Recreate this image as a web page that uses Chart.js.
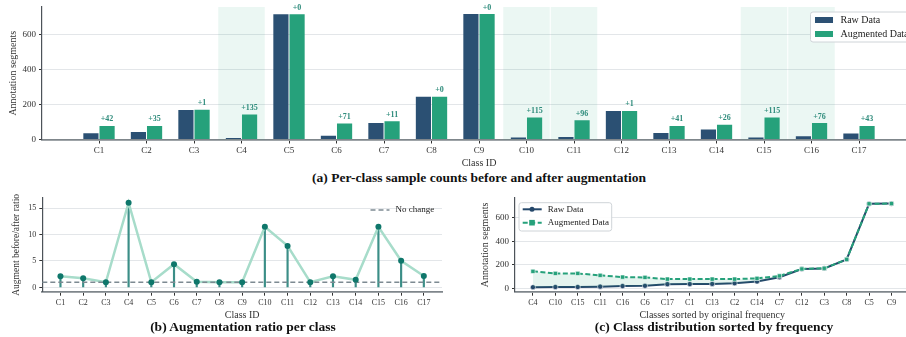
<!DOCTYPE html>
<html>
<head>
<meta charset="utf-8">
<script src="https://cdn.jsdelivr.net/npm/chart.js@4.4.1/dist/chart.umd.min.js"></script>
<style>
    body {
        margin: 0;
        width: 906px;
        height: 337px;
        overflow: hidden;
        background: #fff;
        position: relative;
        font-family: 'Liberation Serif', 'Times New Roman', serif;
    }
    canvas { position: absolute; }
    .title {
        position: absolute;
        font-weight: bold;
        font-size: 13.5px;
        color: #111;
        white-space: nowrap;
        transform: translate(-50%, -50%);
    }
</style>
</head>
<body>
<canvas id="chartA" width="916" height="170" style="left:0;top:0"></canvas>
<canvas id="chartB" width="446" height="132" style="left:0;top:190px"></canvas>
<canvas id="chartC" width="454" height="132" style="left:460px;top:190px"></canvas>
<div class="title" style="left:479px;top:178px">(a) Per-class sample counts before and after augmentation</div>
<div class="title" style="left:243px;top:327px">(b) Augmentation ratio per class</div>
<div class="title" style="left:714px;top:327px">(c) Class distribution sorted by frequency</div>
<script>
// Datos
const classes = ['C1', 'C2', 'C3', 'C4', 'C5', 'C6', 'C7', 'C8', 'C9', 'C10', 'C11', 'C12', 'C13', 'C14', 'C15', 'C16', 'C17'];
const rawCounts = [36, 43, 169, 9, 718, 21, 94, 245, 720, 11, 14, 163, 37, 58, 11, 19, 35];
const augCounts = [78, 78, 170, 144, 718, 92, 105, 245, 720, 126, 110, 164, 78, 84, 126, 95, 78];
const ratios = [2.1, 1.75, 1.0, 16.0, 1.0, 4.4, 1.1, 1.0, 1.0, 11.45, 7.85, 1.0, 2.1, 1.45, 11.45, 5.05, 2.15];
const highlightClasses = ['C4', 'C10', 'C11', 'C15', 'C16'];
const sortedClasses = ['C4', 'C10', 'C15', 'C11', 'C16', 'C6', 'C17', 'C1', 'C13', 'C2', 'C14', 'C7', 'C12', 'C3', 'C8', 'C5', 'C9'];
const yTicksA = [0, 200, 400, 600];
const yTicksB = [0, 5, 10, 15];
const yTicksC = [0, 200, 400, 600];
const NO_CHANGE = 1;

const FONT = "'Liberation Serif', 'Times New Roman', serif";
const RAW_COLOR = '#2b5073';
const AUG_COLOR = '#26a17b';
const TEXT = '#333';

Chart.defaults.font.family = FONT;
Chart.defaults.color = TEXT;

// Fija el ancho/alto de los ejes para alinear el area del grafico
function fixY(width) {
    return (scale) => { scale.width = width; scale.paddingTop = 0; scale.paddingBottom = 0; };
}
function fixX(height) {
    return (scale) => { scale.height = height; scale.paddingLeft = 0; scale.paddingRight = 0; };
}
function setTicks(values) {
    return (scale) => { scale.ticks = values.map(v => ({ value: v })); };
}

function xScale(min, max, labels, height, title, size) {
    return {
        type: 'linear', min: min, max: max, offset: false,
        afterBuildTicks: setTicks(labels.map((c, i) => i)),
        afterFit: fixX(height),
        ticks: { autoSkip: false, maxRotation: 0, padding: 2, font: { size: size }, color: TEXT, callback: v => labels[v] },
        grid: { display: true, drawOnChartArea: false, drawTicks: true, tickLength: 4, tickColor: '#333', offset: false },
        border: { color: '#7f868b', width: 1.8 },
        title: { display: true, text: title, font: { size: 10 }, color: TEXT, padding: { top: 0, bottom: 1 } }
    };
}

function yScale(min, max, tickValues, width, title, titleSize, titlePad, size) {
    return {
        min: min, max: max,
        afterBuildTicks: setTicks(tickValues),
        afterFit: fixY(width),
        ticks: { padding: 3, font: { size: size }, color: TEXT },
        grid: { color: '#e3e6e9', lineWidth: 1, tickLength: 3, tickColor: '#333' },
        border: { color: '#4d5359', width: 1.2 },
        title: { display: true, text: title, font: { size: titleSize }, color: TEXT, padding: { top: titlePad, bottom: 0 } }
    };
}

// Franjas sombreadas de las clases aumentadas
const bandPlugin = {
    id: 'bands',
    beforeDatasetsDraw(chart) {
        const { ctx, chartArea, scales: { x } } = chart;
        ctx.save();
        ctx.fillStyle = 'rgba(38,161,123,0.09)';
        highlightClasses.forEach(c => {
            const i = classes.indexOf(c);
            const l = x.getPixelForValue(i - 0.5);
            const r = x.getPixelForValue(i + 0.5);
            ctx.fillRect(l + 0.5, chartArea.top, r - l - 1, chartArea.bottom - chartArea.top);
        });
        ctx.restore();
    }
};

// Etiquetas "+n" encima de las barras aumentadas
const gainPlugin = {
    id: 'gains',
    afterDatasetsDraw(chart) {
        const ctx = chart.ctx;
        const meta = chart.getDatasetMeta(1);
        ctx.save();
        ctx.font = 'bold 8px ' + FONT;
        ctx.fillStyle = '#2f8c7c';
        ctx.textAlign = 'center';
        ctx.textBaseline = 'bottom';
        meta.data.forEach((bar, i) => {
            ctx.fillText('+' + (augCounts[i] - rawCounts[i]), bar.x, bar.y - 2.5);
        });
        ctx.restore();
    }
};

const legendA = {
    id: 'legendA',
    afterDraw(chart) {
        const ctx = chart.ctx;
        const x0 = chart.chartArea.right - 105.5;
        const y0 = chart.chartArea.top + 5;
        ctx.save();
        ctx.fillStyle = 'rgba(255,255,255,0.9)';
        ctx.strokeStyle = '#cfd4d8';
        ctx.lineWidth = 1;
        ctx.beginPath();
        ctx.roundRect(x0, y0, 115, 30, 2.5);
        ctx.fill();
        ctx.stroke();
        ctx.font = '10px ' + FONT;
        ctx.textBaseline = 'middle';
        chart.data.datasets.forEach((ds, i) => {
            const y = y0 + 8 + i * 14;
            ctx.fillStyle = ds.backgroundColor;
            ctx.fillRect(x0 + 4.5, y - 3, 18, 6);
            ctx.fillStyle = '#222';
            ctx.fillText(ds.label, x0 + 30, y);
        });
        ctx.restore();
    }
};

new Chart(document.getElementById('chartA'), {
    type: 'bar',
    data: {
        datasets: [{
            label: 'Raw Data',
            data: classes.map((c, i) => ({ x: i, y: rawCounts[i] })),
            backgroundColor: RAW_COLOR,
            categoryPercentage: 0.68,
            barPercentage: 0.94
        }, {
            label: 'Augmented Data',
            data: classes.map((c, i) => ({ x: i, y: augCounts[i] })),
            backgroundColor: AUG_COLOR,
            categoryPercentage: 0.68,
            barPercentage: 0.94
        }]
    },
    options: {
        responsive: false,
        devicePixelRatio: 1,
        animation: false,
        layout: { padding: { top: 7, left: 0, right: 0, bottom: 0 } },
        plugins: { legend: { display: false }, tooltip: { enabled: false } },
        scales: {
            x: Object.assign(xScale(-1.2, 17.2, classes, 30.5, 'Class ID', 9), { z: 1 }),
            y: yScale(0, 760, yTicksA, 42, 'Annotation segments', 10, 7, 9)
        }
    },
    plugins: [bandPlugin, gainPlugin, legendA]
});

// Linea discontinua de "sin cambio", dibujada antes de los puntos
const noChangePlugin = {
    id: 'noChange',
    beforeDatasetDraw(chart, args) {
        if (args.index !== 0) return;
        const { ctx, chartArea, scales: { y } } = chart;
        const py = y.getPixelForValue(NO_CHANGE);
        ctx.save();
        ctx.strokeStyle = '#7d8a92';
        ctx.lineWidth = 1.5;
        ctx.setLineDash([5, 3]);
        ctx.beginPath();
        ctx.moveTo(chartArea.left, py);
        ctx.lineTo(chartArea.right, py);
        ctx.stroke();
        ctx.restore();
    },
    afterDraw(chart) {
        const { ctx, chartArea } = chart;
        const y = chartArea.top + 12;
        ctx.save();
        ctx.strokeStyle = '#7d8a92';
        ctx.lineWidth = 1.5;
        ctx.setLineDash([5, 3]);
        ctx.beginPath();
        ctx.moveTo(chartArea.right - 71.5, y);
        ctx.lineTo(chartArea.right - 52.5, y);
        ctx.stroke();
        ctx.font = '9px ' + FONT;
        ctx.fillStyle = '#222';
        ctx.textBaseline = 'middle';
        ctx.fillText('No change', chartArea.right - 46.5, y);
        ctx.restore();
    }
};

const ratioPoints = classes.map((c, i) => ({ x: i, y: ratios[i] }));

new Chart(document.getElementById('chartB'), {
    type: 'line',
    data: {
        datasets: [{
            data: ratioPoints,
            showLine: false,
            pointRadius: 3,
            pointBackgroundColor: '#0f776b',
            pointBorderColor: '#0f776b',
            pointBorderWidth: 0,
            order: 1
        }, {
            data: ratioPoints,
            borderColor: '#a7dcca',
            borderWidth: 2.5,
            pointRadius: 0,
            order: 3
        }, {
            type: 'bar',
            data: ratioPoints,
            backgroundColor: '#3b8e87',
            barThickness: 1.5,
            order: 4
        }]
    },
    options: {
        responsive: false,
        devicePixelRatio: 1,
        animation: false,
        layout: { padding: { top: 8, left: 0, right: 2.8, bottom: 0 } },
        plugins: { legend: { display: false }, tooltip: { enabled: false } },
        scales: {
            x: xScale(-0.8, 16.8, classes, 30.3, 'Class ID', 8),
            y: yScale(-0.8, 16.9, yTicksB, 42.3, 'Augment before/after ratio', 9.5, 11, 8)
        }
    },
    plugins: [noChangePlugin]
});

const legendC = {
    id: 'legendC',
    afterDraw(chart) {
        const ctx = chart.ctx;
        const x0 = chart.chartArea.left + 4;
        const y0 = chart.chartArea.top + 4.7;
        ctx.save();
        ctx.fillStyle = 'rgba(255,255,255,0.9)';
        ctx.strokeStyle = '#cfd4d8';
        ctx.lineWidth = 1;
        ctx.beginPath();
        ctx.roundRect(x0, y0, 92.7, 28.3, 2.5);
        ctx.fill();
        ctx.stroke();
        ctx.font = '9px ' + FONT;
        ctx.textBaseline = 'middle';
        chart.data.datasets.forEach((ds, i) => {
            const y = y0 + 6.6 + i * 13.4;
            ctx.strokeStyle = ds.borderColor;
            ctx.lineWidth = 2;
            ctx.setLineDash(ds.borderDash || []);
            ctx.beginPath();
            ctx.moveTo(x0 + 3.7, y);
            ctx.lineTo(x0 + 22.7, y);
            ctx.stroke();
            ctx.setLineDash([]);
            ctx.fillStyle = ds.borderColor;
            if (ds.pointStyle === 'rect') {
                ctx.fillRect(x0 + 10.2, y - 2.8, 5.6, 5.6);
            } else {
                ctx.beginPath();
                ctx.arc(x0 + 13, y, 2.5, 0, Math.PI * 2);
                ctx.fill();
            }
            ctx.fillStyle = '#222';
            ctx.fillText(ds.label, x0 + 28.7, y);
        });
        ctx.restore();
    }
};

new Chart(document.getElementById('chartC'), {
    type: 'line',
    data: {
        datasets: [{
            label: 'Raw Data',
            data: sortedClasses.map((c, i) => ({ x: i, y: rawCounts[classes.indexOf(c)] })),
            borderColor: '#24476a',
            backgroundColor: '#24476a',
            borderWidth: 2,
            pointRadius: 2.6,
            pointBorderColor: '#fff',
            pointBorderWidth: 0.6,
            order: 2
        }, {
            label: 'Augmented Data',
            data: sortedClasses.map((c, i) => ({ x: i, y: augCounts[classes.indexOf(c)] })),
            borderColor: AUG_COLOR,
            backgroundColor: 'rgba(38,161,123,0.12)',
            pointBackgroundColor: AUG_COLOR,
            pointBorderColor: '#fff',
            pointBorderWidth: 0.6,
            borderWidth: 2,
            borderDash: [5, 2.5],
            pointStyle: 'rect',
            pointRadius: 3,
            fill: '-1',
            order: 1
        }]
    },
    options: {
        responsive: false,
        devicePixelRatio: 1,
        animation: false,
        layout: { padding: { top: 8, left: 0, right: 0, bottom: 0 } },
        plugins: { legend: { display: false }, tooltip: { enabled: false } },
        scales: {
            x: xScale(-0.8, 16.8, sortedClasses, 30.3, 'Classes sorted by original frequency', 8),
            y: yScale(-29, 767, yTicksC, 55, 'Annotation segments', 10, 19, 9)
        }
    },
    plugins: [legendC]
});
</script>
</body>
</html>
